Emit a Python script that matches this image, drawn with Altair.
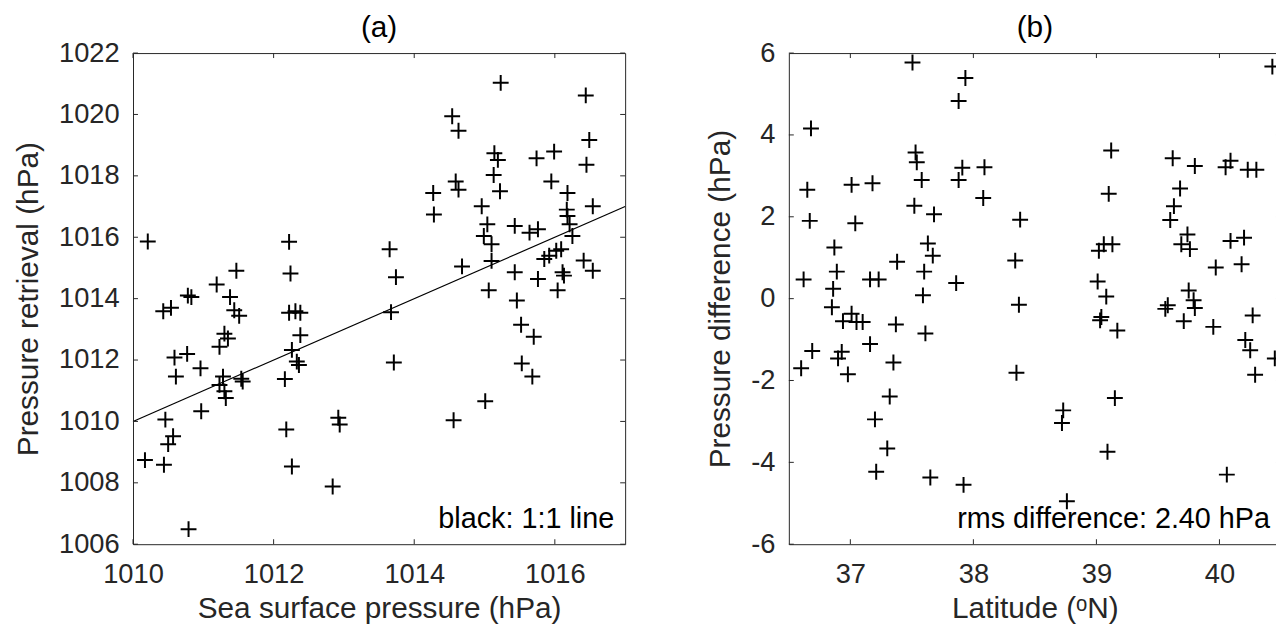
import altair as alt
import pandas as pd

# ---------------- data ----------------
ssp = [1010.21, 1012.22, 1011.47, 1012.24, 1011.19, 1011.38, 1010.78, 1010.83, 1010.43, 1010.54,
       1011.44, 1011.51, 1012.22, 1012.31, 1012.38, 1011.30, 1011.35, 1011.23, 1012.38, 1012.26,
       1012.33, 1012.36, 1010.59, 1010.77, 1010.96, 1010.61, 1011.28, 1011.23, 1011.30, 1011.32,
       1011.54, 1011.56, 1012.16, 1010.97, 1010.46, 1010.57, 1010.50, 1010.17, 1010.44, 1012.18,
       1012.26, 1012.92, 1012.94, 1012.84, 1010.79, 1015.23, 1016.44, 1014.54, 1014.63, 1016.49,
       1015.99, 1015.14, 1015.19, 1015.74, 1016.45, 1015.13, 1014.59, 1014.63, 1014.27, 1015.22,
       1015.95, 1016.18, 1016.54, 1014.28, 1014.96, 1016.17, 1016.18, 1015.04, 1015.43, 1015.64,
       1015.76, 1016.21, 1016.25, 1014.99, 1015.10, 1013.65, 1013.74, 1015.10, 1015.85, 1015.92,
       1016.02, 1016.09, 1016.41, 1016.54, 1014.68, 1015.43, 1015.76, 1016.11, 1016.13, 1015.06,
       1016.04, 1015.46, 1013.67, 1015.52, 1015.70, 1015.53, 1015.68, 1013.71, 1015.01, 1014.56]
retrieval = [1015.86, 1015.85, 1014.91, 1014.82, 1014.46, 1014.05, 1014.10, 1014.05, 1013.59, 1013.70,
             1013.62, 1013.44, 1013.54, 1013.59, 1013.54, 1012.86, 1012.70, 1012.43, 1012.81, 1012.33,
             1011.95, 1011.84, 1012.08, 1012.20, 1011.73, 1011.46, 1011.46, 1011.19, 1010.98, 1010.76,
             1011.39, 1011.30, 1011.38, 1010.33, 1010.06, 1009.52, 1009.26, 1008.74, 1008.59, 1009.74,
             1008.53, 1010.12, 1009.90, 1007.88, 1006.49, 1021.03, 1020.62, 1019.94, 1019.47, 1019.17,
             1018.79, 1018.74, 1018.52, 1018.57, 1018.36, 1018.03, 1017.82, 1017.55, 1017.44, 1017.50,
             1017.82, 1017.44, 1017.01, 1016.74, 1017.01, 1016.90, 1016.69, 1016.42, 1016.37, 1016.15,
             1016.26, 1016.42, 1016.04, 1016.04, 1015.77, 1015.61, 1014.70, 1015.23, 1015.29, 1015.40,
             1015.56, 1015.61, 1015.24, 1014.91, 1015.05, 1014.86, 1014.64, 1014.86, 1014.75, 1014.27,
             1014.27, 1013.94, 1013.56, 1013.15, 1012.76, 1011.89, 1011.46, 1011.92, 1010.66, 1010.04]

latitude = [37.505, 37.935, 37.88, 36.68, 37.53, 37.54, 37.91, 38.09, 36.65, 37.01,
            37.18, 37.58, 37.88, 38.08, 36.67, 37.04, 37.52, 37.68, 36.87, 37.63,
            37.67, 37.38, 37.60, 36.89, 36.62, 36.86, 37.16, 37.23, 37.86, 37.59,
            36.85, 36.94, 37.01, 37.05, 37.10, 37.37, 37.61, 37.16, 36.69, 36.93,
            36.90, 36.60, 36.98, 37.35, 37.32, 37.20, 37.30, 37.21, 37.65, 37.92,
            40.43, 39.12, 39.62, 39.80, 40.09, 40.05, 40.23, 40.30, 39.10, 39.68,
            39.63, 39.60, 38.38, 39.74, 39.69, 39.76, 40.09, 40.20, 39.02, 39.06,
            39.13, 38.34, 39.97, 40.18, 39.01, 39.08, 38.37, 39.75, 39.79, 39.80,
            39.58, 39.56, 40.27, 39.04, 39.03, 39.71, 39.95, 39.17, 40.21, 40.25,
            40.29, 40.45, 38.35, 38.73, 38.72, 39.15, 39.09, 40.06, 38.76]
difference = [5.77, 5.39, 4.83, 4.16, 3.57, 3.33, 3.20, 3.21, 2.66, 2.78,
              2.82, 2.90, 2.90, 2.46, 1.90, 1.84, 2.27, 2.06, 1.25, 1.35,
              1.05, 0.90, 0.66, 0.66, 0.47, 0.24, 0.47, 0.47, 0.38, 0.08,
              -0.21, -0.55, -0.37, -0.57, -0.57, -0.63, -0.85, -1.11, -1.28, -1.30,
              -1.46, -1.70, -1.85, -1.56, -2.39, -2.95, -3.66, -4.23, -4.37, -4.55,
              5.67, 3.62, 3.43, 3.24, 3.37, 3.21, 3.15, 3.15, 2.56, 2.69,
              2.26, 1.92, 1.93, 1.57, 1.33, 1.21, 1.41, 1.49, 1.17, 1.33,
              1.33, 0.93, 0.76, 0.84, 0.42, 0.05, -0.15, 0.20, -0.04, -0.23,
              -0.16, -0.25, -0.41, -0.45, -0.53, -0.55, -0.69, -0.78, -1.01, -1.26,
              -1.86, -1.46, -1.81, -2.73, -3.04, -2.43, -3.74, -4.30, -4.95]

one_to_one = [1010, 1017]

x_domain_a = [1010, 1017]
y_domain_a = [1006, 1022]
x_ticks_a = [1010, 1012, 1014, 1016]
y_ticks_a = [1006, 1008, 1010, 1012, 1014, 1016, 1018, 1020, 1022]

x_domain_b = [36.5, 40.5]
y_domain_b = [-6, 6]
x_ticks_b = [37, 38, 39, 40]
y_ticks_b = [-6, -4, -2, 0, 2, 4, 6]

title_a = "(a)"
title_b = "(b)"
xlabel_a = "Sea surface pressure (hPa)"
ylabel_a = "Pressure retrieval (hPa)"
xlabel_b = "Latitude (ᵒN)"
ylabel_b = "Pressure difference (hPa)"
note_a = "black: 1:1 line"
note_b = "rms difference: 2.40 hPa"

# ---------------- style ----------------
W, H = 496, 495
FONT = "Liberation Sans"
INK = "#262626"
PLUS = "M-1,0L1,0M0,-1L0,1"
TICK = 5


def panel(df, xf, yf, xdom, ydom, xticks, yticks, xtitle, ytitle, title, note, extra=None):
    xs = alt.Scale(domain=xdom, nice=False, zero=False)
    ys = alt.Scale(domain=ydom, nice=False, zero=False)
    xax = alt.Axis(values=xticks, title=xtitle, labelExpr="datum.value + ''")
    yax = alt.Axis(values=yticks, title=ytitle, labelExpr="datum.value + ''")

    layers = []
    layers.append(
        alt.Chart(df).mark_point(shape=PLUS, size=256, strokeWidth=2, color="black",
                                 filled=False, opacity=1)
        .encode(x=alt.X(f"{xf}:Q", scale=xs, axis=xax), y=alt.Y(f"{yf}:Q", scale=ys, axis=yax))
    )
    if extra is not None:
        layers.append(
            alt.Chart(extra).mark_line(color="black", strokeWidth=1.2)
            .encode(x=alt.X(f"{xf}:Q", scale=xs, axis=xax), y=alt.Y(f"{yf}:Q", scale=ys, axis=yax))
        )
    tx = pd.DataFrame({xf: xticks})
    ty = pd.DataFrame({yf: yticks})
    tick_style = dict(color=INK, strokeWidth=1)
    layers.append(alt.Chart(tx).mark_rule(**tick_style).encode(
        x=alt.X(f"{xf}:Q", scale=xs, axis=xax), y=alt.value(H), y2=alt.value(H - TICK)))
    layers.append(alt.Chart(tx).mark_rule(**tick_style).encode(
        x=alt.X(f"{xf}:Q", scale=xs, axis=xax), y=alt.value(0), y2=alt.value(TICK)))
    layers.append(alt.Chart(ty).mark_rule(**tick_style).encode(
        y=alt.Y(f"{yf}:Q", scale=ys, axis=yax), x=alt.value(0), x2=alt.value(TICK)))
    layers.append(alt.Chart(ty).mark_rule(**tick_style).encode(
        y=alt.Y(f"{yf}:Q", scale=ys, axis=yax), x=alt.value(W), x2=alt.value(W - TICK)))
    # annotation inside the axes
    layers.append(
        alt.Chart(pd.DataFrame({"t": [note]})).mark_text(
            align="right", baseline="alphabetic", font=FONT, fontSize=29, color="black")
        .encode(x=alt.value(W - 11), y=alt.value(H - 16), text="t:N")
    )
    # panel title above the axes
    layers.append(
        alt.Chart(pd.DataFrame({"t": [title]})).mark_text(
            align="center", baseline="alphabetic", font=FONT, fontSize=30, color="black")
        .encode(x=alt.value(W / 2), y=alt.value(-16), text="t:N")
    )
    return alt.layer(*layers).properties(width=W, height=H)


df_a = pd.DataFrame({"ssp": ssp, "ret": retrieval})
line_a = pd.DataFrame({"ssp": one_to_one, "ret": one_to_one})
df_b = pd.DataFrame({"lat": latitude, "diff": difference})

pa = panel(df_a, "ssp", "ret", x_domain_a, y_domain_a, x_ticks_a, y_ticks_a,
           xlabel_a, ylabel_a, title_a, note_a, extra=line_a)
pb = panel(df_b, "lat", "diff", x_domain_b, y_domain_b, x_ticks_b, y_ticks_b,
           xlabel_b, ylabel_b, title_b, note_b)

chart = (
    alt.hconcat(pa, pb, spacing=165, bounds="flush")
    .properties(padding={"left": 5, "top": 2, "right": -12, "bottom": -1})
    .configure_view(stroke=INK, strokeWidth=1)
    .configure_axis(domain=False, ticks=False, grid=False, labelFlush=False, labelOverlap=False,
                    labelFont=FONT, labelFontSize=27.5, labelColor=INK,
                    titleFont=FONT, titleFontSize=30, titleColor=INK, titleFontWeight="normal")
    .configure_axisX(labelPadding=17, titlePadding=5)
    .configure_axisY(labelPadding=14, titlePadding=15)
)

chart.save("out.html", embed_options={"renderer": "svg", "actions": False})
